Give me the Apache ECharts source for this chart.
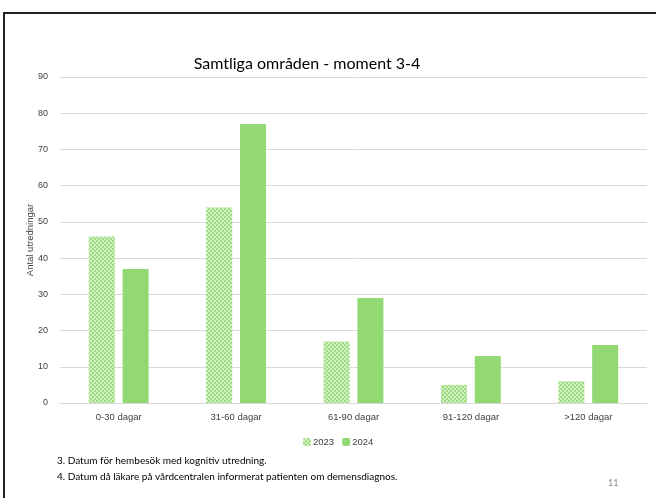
<!DOCTYPE html>
<html>
<head>
<meta charset="utf-8">
<script src="https://cdn.jsdelivr.net/npm/echarts@6/dist/echarts.min.js"></script>
<style>
html,body{margin:0;padding:0;background:#fff}
#main{width:656px;height:498px}
</style>
</head>
<body>
<div id="main"></div>
<script>
// data
var categories = ["0-30 dagar", "31-60 dagar", "61-90 dagar", "91-120 dagar", ">120 dagar"]
var values2023 = [46, 54, 17, 5, 6]
var values2024 = [37, 77, 29, 13, 16]
var seriesNames = ["2023", "2024"]
var notes = [
    "3. Datum för hembesök med kognitiv utredning.",
    "4. Datum då läkare på vårdcentralen informerat patienten om demensdiagnos."
]

// checkered fill for 2023
var pat = document.createElement("canvas")
pat.width = 4; pat.height = 4
var ctx = pat.getContext("2d")
ctx.fillStyle = "#d3f0c3"
ctx.fillRect(0, 0, 4, 4)
ctx.fillStyle = "#9bdc80"
ctx.fillRect(0, 0, 2, 2)
ctx.fillRect(2, 2, 2, 2)

var axisFont = "'Liberation Sans', Arial, sans-serif"
var myChart = echarts.init(document.getElementById('main'));
var option = {
    animation: false,
    title: {
        text: "Samtliga områden - moment 3-4",
        left: 302, top: 51, textAlign: "center",
        textStyle: {fontFamily: "Lato", fontWeight: "normal", fontSize: 16, color: "#000"}
    },
    grid: {left: 60, right: 9, top: 77, bottom: 95},
    legend: {
        data: seriesNames,
        left: 298, top: 432,
        itemWidth: 8, itemHeight: 8, itemGap: 8,
        textStyle: {fontFamily: axisFont, fontSize: 9.5, color: "#404040", padding: [0, 0, 0, -3]}
    },
    xAxis: {
        type: "category",
        data: categories,
        axisTick: {show: false},
        axisLine: {lineStyle: {color: "#d9d9d9"}},
        axisLabel: {fontFamily: axisFont, fontSize: 9.5, color: "#404040", margin: 9}
    },
    yAxis: {
        type: "value",
        min: 0, max: 90, interval: 10,
        name: "Antal utredningar",
        nameLocation: "middle", nameRotate: 90, nameGap: 25,
        nameMoveOverlap: false,
        nameTextStyle: {fontFamily: axisFont, fontSize: 9.5, color: "#404040"},
        axisLine: {show: false},
        axisTick: {show: false},
        axisLabel: {fontFamily: axisFont, fontSize: 9, color: "#404040", margin: 12},
        splitLine: {lineStyle: {color: "#d9d9d9"}}
    },
    graphic: [
        {type: "line", shape: {x1: 4, y1: 13, x2: 656, y2: 13}, style: {stroke: "#222", lineWidth: 2}},
        {type: "line", shape: {x1: 4, y1: 12, x2: 4, y2: 498}, style: {stroke: "#222", lineWidth: 2}},
        {type: "text", left: 57, top: 456, style: {text: notes[0], fontFamily: "Lato", fontSize: 10, fill: "#000"}},
        {type: "text", left: 57, top: 472, style: {text: notes[1], fontFamily: "Lato", fontSize: 10, fill: "#000"}},
        {type: "text", left: 608, top: 479, style: {text: "11", fontFamily: "Lato", fontSize: 9, fill: "#8a8a8a"}}
    ],
    series: [
        {
            name: seriesNames[0], type: "bar", data: values2023,
            barWidth: 26, barGap: "30%",
            itemStyle: {color: {image: pat, repeat: "repeat"}}
        },
        {
            name: seriesNames[1], type: "bar", data: values2024,
            barWidth: 26,
            itemStyle: {color: "#92d873"}
        }
    ]
};
myChart.setOption(option);
</script>
</body>
</html>
